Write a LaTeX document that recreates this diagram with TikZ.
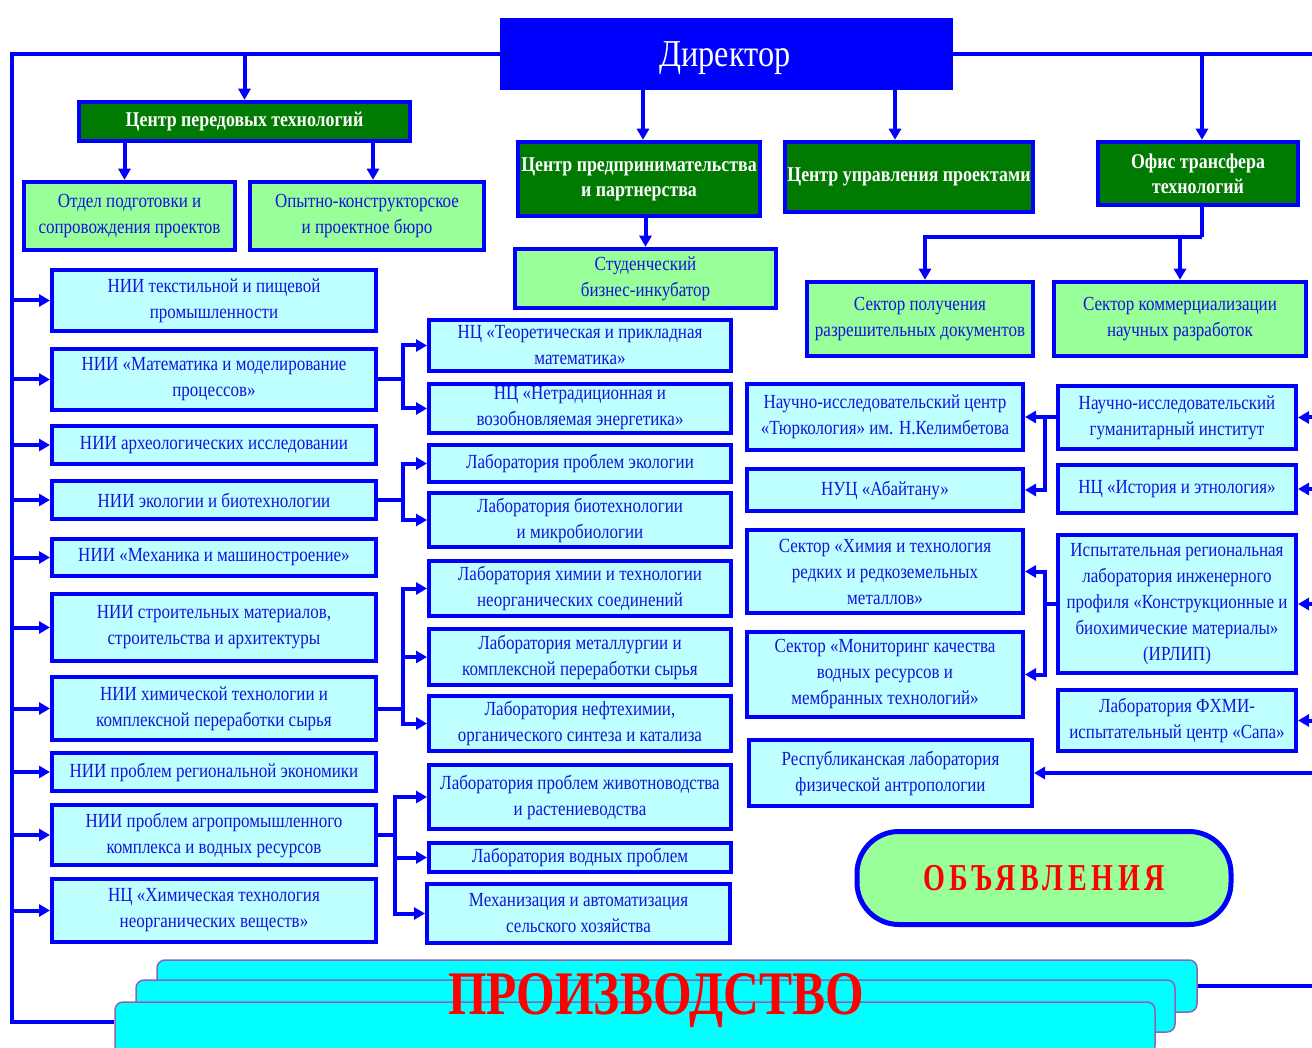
\documentclass[tikz,border=0pt]{standalone}
\usepackage{fontspec}
\setmainfont{Liberation Serif}
\newfontfamily\boxfont[FakeStretch=0.85]{Liberation Serif}
\newfontfamily\headfont[FakeStretch=0.85]{Liberation Serif}
\newfontfamily\bigfont[FakeStretch=0.8]{Liberation Serif}
\newfontfamily\annfont[FakeStretch=0.74,LetterSpace=12]{Liberation Serif}
\usetikzlibrary{arrows.meta}

\definecolor{linkblue}{RGB}{0,0,255}
\definecolor{txtblue}{RGB}{20,20,220}
\definecolor{darkgr}{RGB}{0,122,0}
\definecolor{lightgr}{RGB}{153,255,153}
\definecolor{lightcy}{RGB}{190,255,255}
\definecolor{prodcy}{RGB}{0,255,255}
\definecolor{prodedge}{RGB}{140,100,180}

\begin{document}
\begin{tikzpicture}[x=1pt, y=-1pt,
    bus/.style={linkblue, line width=4pt},
    arr/.style={bus, -{Triangle[length=11pt,width=12pt]}},
    headbox/.style={draw=linkblue, line width=4.5pt, fill=darkgr, text=white,
        font=\headfont\bfseries\fontsize{21}{25}\selectfont, align=center, inner sep=0pt},
    greenbox/.style={draw=linkblue, line width=4.5pt, fill=lightgr, text=txtblue,
        font=\boxfont\fontsize{20}{26}\selectfont, align=center, inner sep=0pt},
    cyanbox/.style={draw=linkblue, line width=4pt, fill=lightcy, text=txtblue,
        font=\boxfont\fontsize{20}{26}\selectfont, align=center, inner sep=0pt},
    prodbox/.style={draw=prodedge, line width=1.5pt, fill=prodcy, rounded corners=8pt}
]

    % Page
    \fill[white] (0,0) rectangle (1312,1048);
    \useasboundingbox (0,0) rectangle (1312,1048);

    % Director and bus
    \node[fill=linkblue, minimum width=453, minimum height=72] (dir) at (726.5,54) {};
    \node[text=white, font=\boxfont\fontsize{38}{40}\selectfont] (dirtxt) at (725,58) {Директор};
    \coordinate (lt) at (12,56);
    \coordinate (lb) at (12,1022);
    \coordinate (rt) at (1312,56);

    % Centres under the director
    \node[headbox, minimum width=331, minimum height=39] (cpt) at (244.5,121.5) {Центр передовых технологий};
    \node[headbox, minimum width=242, minimum height=74] (cpp) at (639,179) {Центр предпринимательства\\и партнерства};
    \node[headbox, minimum width=248, minimum height=70] (cup) at (909,177) {Центр управления проектами};
    \node[headbox, minimum width=200, minimum height=63] (ott) at (1198,173.5) {Офис трансфера\\технологий};

    % Their departments
    \node[greenbox, minimum width=211, minimum height=68] (otdel) at (129.5,216) {Отдел подготовки и\\сопровождения проектов};
    \node[greenbox, minimum width=234, minimum height=68] (okb) at (367,216) {Опытно-конструкторское\\и проектное бюро};
    \node[greenbox, minimum width=261, minimum height=59] (sbi) at (645.5,278.5) {Студенческий\\бизнес-инкубатор};
    \node[greenbox, minimum width=226, minimum height=74] (spr) at (920,319) {Сектор получения\\разрешительных  документов};
    \node[greenbox, minimum width=252, minimum height=74] (skn) at (1180,319) {Сектор коммерциализации\\научных разработок};

    % Institutes, left column
    \node[cyanbox, minimum width=324, minimum height=61] (niitp) at (214,300.5) {НИИ текстильной и пищевой\\промышленности};
    \node[cyanbox, minimum width=324, minimum height=61] (niimat) at (214,379.5) {НИИ «Математика и моделирование\\процессов»};
    \node[cyanbox, minimum width=324, minimum height=38] (niiarh) at (214,445) {НИИ археологических исследовании};
    \node[cyanbox, minimum width=324, minimum height=38] (niieko) at (214,500) {НИИ экологии и биотехнологии};
    \node[cyanbox, minimum width=324, minimum height=37] (niimeh) at (214,557.5) {НИИ «Механика и машиностроение»};
    \node[cyanbox, minimum width=324, minimum height=67] (niistr) at (214,627.5) {НИИ строительных материалов,\\строительства и архитектуры};
    \node[cyanbox, minimum width=324, minimum height=63] (niihim) at (214,708.5) {НИИ химической технологии и\\комплексной  переработки  сырья};
    \node[cyanbox, minimum width=324, minimum height=38] (niiekon) at (214,772) {НИИ проблем  региональной экономики};
    \node[cyanbox, minimum width=324, minimum height=60] (niiapk) at (214,835) {НИИ проблем агропромышленного\\комплекса  и водных ресурсов};
    \node[cyanbox, minimum width=324, minimum height=63] (nchim) at (214,910.5) {НЦ «Химическая  технология\\неорганических  веществ»};

    % Centres and labs, middle column
    \node[cyanbox, minimum width=302, minimum height=51] (nctpm) at (580,345.5) {НЦ «Теоретическая  и прикладная\\математика»};
    \node[cyanbox, minimum width=302, minimum height=49] (ncnve) at (580,408.5) {НЦ «Нетрадиционная и\\возобновляемая энергетика»};
    \node[cyanbox, minimum width=302, minimum height=37] (labeko) at (580,463.5) {Лаборатория проблем экологии};
    \node[cyanbox, minimum width=302, minimum height=54] (labbio) at (580,520) {Лаборатория биотехнологии\\и микробиологии};
    \node[cyanbox, minimum width=302, minimum height=55] (labhim) at (580,588.5) {Лаборатория химии и технологии\\неорганических  соединений};
    \node[cyanbox, minimum width=302, minimum height=56] (labmet) at (580,657) {Лаборатория металлургии  и\\комплексной переработки  сырья};
    \node[cyanbox, minimum width=302, minimum height=55] (labneft) at (580,723.5) {Лаборатория нефтехимии,\\органического синтеза  и катализа};
    \node[cyanbox, minimum width=302, minimum height=64] (labzhiv) at (580,797) {Лаборатория  проблем животноводства\\и растениеводства};
    \node[cyanbox, minimum width=302, minimum height=29] (labvod) at (580,857.5) {Лаборатория водных проблем};
    \node[cyanbox, minimum width=303, minimum height=59] (labmeh) at (578.5,913.5) {Механизация  и автоматизация\\сельского хозяйства};

    % Right-middle column
    \node[cyanbox, minimum width=276, minimum height=66] (turk) at (885,417) {Научно-исследовательский  центр\\«Тюркология» им. Н.Келимбетова};
    \node[cyanbox, minimum width=276, minimum height=42] (nuc) at (885,490) {НУЦ «Абайтану»};
    \node[cyanbox, minimum width=276, minimum height=83] (skhim) at (885,571.5) {Сектор «Химия  и технология\\редких  и редкоземельных\\металлов»};
    \node[cyanbox, minimum width=276, minimum height=85] (smon) at (885,674.5) {Сектор «Мониторинг качества\\водных ресурсов  и\\мембранных  технологий»};
    \node[cyanbox, minimum width=283, minimum height=66] (rlfa) at (890.5,773) {Республиканская  лаборатория\\физической антропологии};

    % Right column
    \node[cyanbox, minimum width=238, minimum height=63] (ngi) at (1177,417.5) {Научно-исследовательский\\гуманитарный  институт};
    \node[cyanbox, minimum width=238, minimum height=48] (nchie) at (1177,489) {НЦ «История и этнология»};
    \node[cyanbox, minimum width=238, minimum height=138] (irlip) at (1177,604) {Испытательная региональная\\лаборатория инженерного\\профиля  «Конструкционные и\\биохимические материалы»\\(ИРЛИП)};
    \node[cyanbox, minimum width=238, minimum height=61] (sapa) at (1177,720.5) {Лаборатория ФХМИ-\\испытательный центр «Сапа»};

    % Announcements
    \node[draw=linkblue, line width=5pt, fill=lightgr, rounded corners=42pt,
        minimum width=374, minimum height=93, text=red,
        font=\annfont\bfseries\fontsize{38}{40}\selectfont] (ann) at (1044,878) {ОБЪЯВЛЕНИЯ};

    % Production stack
    \node[prodbox, minimum width=1040, minimum height=52] (prodb) at (677,986) {};
    \node[prodbox, minimum width=1039, minimum height=52] (prodm) at (655.5,1006) {};
    \node[prodbox, minimum width=1040, minimum height=52] (prodf) at (635,1028) {};
    \node[text=red, font=\bigfont\bfseries\fontsize{62}{62}\selectfont] (prodtxt) at (656,1001) {ПРОИЗВОДСТВО};

    % Bus lines
    \draw[bus] (dir.west) -- (lt |- dir.west) -- (lb) -- (prodf.west |- lb);
    \draw[bus] (dir.east) -- (rt |- dir.east);
    \draw[bus] (prodb.east) -- (rt |- prodb.east);

    % Arrows from the director
    \draw[arr] (cpt.north |- dir.west) -- (cpt.north);
    \draw[arr] ([xshift=4pt]cpp.north |- dir.south) -- ([xshift=4pt]cpp.north);
    \draw[arr] ([xshift=-14pt]cup.north |- dir.south) -- ([xshift=-14pt]cup.north);
    \draw[arr] ([xshift=4pt]ott.north |- dir.east) -- ([xshift=4pt]ott.north);

    % Arrows to the departments
    \draw[arr] ([xshift=-5pt]otdel.north |- cpt.south) -- ([xshift=-5pt]otdel.north);
    \draw[arr] ([xshift=6pt]okb.north |- cpt.south) -- ([xshift=6pt]okb.north);
    \draw[arr] (sbi.north |- cpp.south) -- (sbi.north);
    \draw[bus] ([xshift=4pt]ott.south) -- ++(0,30) coordinate (jott);
    \draw[arr] (jott) -| ([xshift=5pt]spr.north);
    \draw[arr] (skn.north |- jott) -- (skn.north);

    % Arrows from the left bus
    \foreach \n in {niitp,niimat,niiarh,niieko,niimeh,niistr,niihim,niiekon,niiapk,nchim}
        \draw[arr] (lt |- \n.west) -- (\n.west);

    % Branches to the middle column
    \draw[bus] (niimat.east) -- ++(25,0) coordinate (jmat);
    \draw[arr] (jmat) |- (nctpm.west);
    \draw[arr] (jmat) |- (ncnve.west);
    \draw[bus] (niieko.east) -- ++(25,0) coordinate (jeko);
    \draw[arr] (jeko) |- (labeko.west);
    \draw[arr] (jeko) |- (labbio.west);
    \draw[bus] (niihim.east) -- ++(25,0) coordinate (jhim);
    \draw[arr] (jhim) |- (labhim.west);
    \draw[arr] (jhim) |- (labmet.west);
    \draw[arr] (jhim) |- (labneft.west);
    \draw[bus] (niiapk.east) -- ++(17,0) coordinate (japk);
    \draw[arr] (japk) |- (labzhiv.west);
    \draw[arr] (japk) |- (labvod.west);
    \draw[arr] (japk) |- (labmeh.west);

    % Branches to the right-middle column
    \draw[bus] (ngi.west) -- ++(-11,0) coordinate (jgi);
    \draw[arr] (jgi) |- (turk.east);
    \draw[arr] (jgi) |- (nuc.east);
    \draw[bus] (irlip.west) -- ++(-11,0) coordinate (jirl);
    \draw[arr] (jirl) |- (skhim.east);
    \draw[arr] (jirl) |- (smon.east);

    % Arrows from the right edge
    \foreach \n in {ngi,nchie,irlip,sapa,rlfa}
        \draw[arr] (rt |- \n.east) -- (\n.east);

\end{tikzpicture}
\end{document}
